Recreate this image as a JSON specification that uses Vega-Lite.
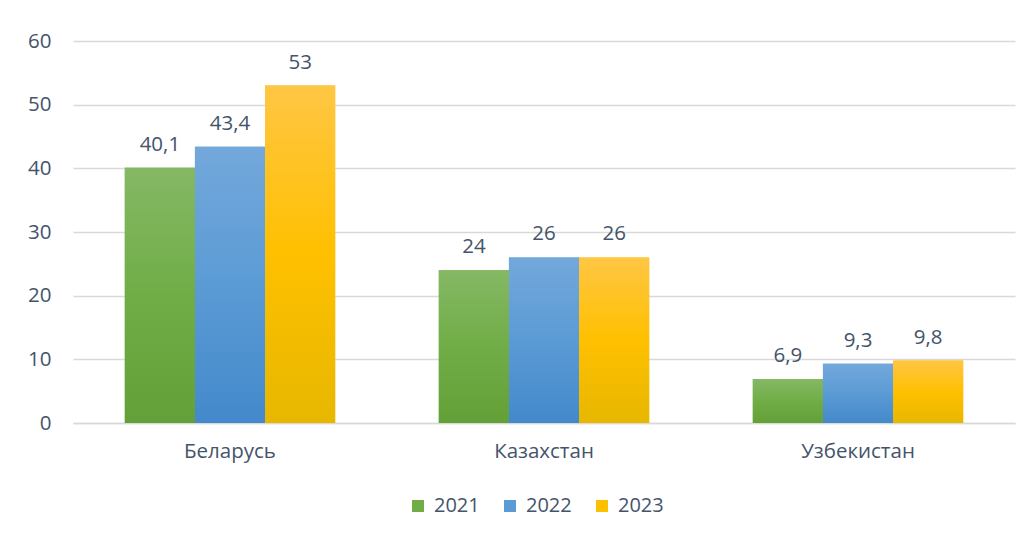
{
  "$schema": "https://vega.github.io/schema/vega-lite/v6.json",
  "width": 942,
  "height": 382,
  "autosize": "none",
  "padding": {"left": 73, "top": 41, "right": 15, "bottom": 114},
  "background": "white",
  "config": {"view": {"stroke": null}, "font": "Open Sans"},
  "data": {"values": [
    {"country": "Беларусь", "year": "2021", "value": 40.1, "label": "40,1"},
    {"country": "Беларусь", "year": "2022", "value": 43.4, "label": "43,4"},
    {"country": "Беларусь", "year": "2023", "value": 53, "label": "53"},
    {"country": "Казахстан", "year": "2021", "value": 24, "label": "24"},
    {"country": "Казахстан", "year": "2022", "value": 26, "label": "26"},
    {"country": "Казахстан", "year": "2023", "value": 26, "label": "26"},
    {"country": "Узбекистан", "year": "2021", "value": 6.9, "label": "6,9"},
    {"country": "Узбекистан", "year": "2022", "value": 9.3, "label": "9,3"},
    {"country": "Узбекистан", "year": "2023", "value": 9.8, "label": "9,8"}
  ]},
  "encoding": {
    "x": {
      "field": "country", "type": "nominal",
      "sort": ["Беларусь", "Казахстан", "Узбекистан"],
      "scale": {"paddingInner": 0.33, "paddingOuter": 0.165},
      "axis": {"title": null, "labelAngle": 0, "labelFontSize": 20.5, "labelColor": "#44546a", "labelFont": "Open Sans", "ticks": false, "domainColor": "#d9d9d9", "domainWidth": 1.5, "labelPadding": 18}
    },
    "xOffset": {
      "field": "year", "type": "nominal", "sort": ["2021", "2022", "2023"],
      "scale": {"paddingInner": 0, "paddingOuter": 0}
    },
    "y": {
      "field": "value", "type": "quantitative",
      "scale": {"domain": [0, 60], "nice": false},
      "axis": {"title": null, "values": [0, 10, 20, 30, 40, 50, 60], "ticks": false, "domain": false, "gridColor": "#d9d9d9", "gridWidth": 1.5, "labelFontSize": 20.5, "labelColor": "#44546a", "labelFont": "Open Sans", "labelPadding": 22}
    }
  },
  "layer": [
    {
      "mark": {"type": "bar"},
      "encoding": {
        "color": {
          "field": "year", "type": "nominal",
          "scale": {"domain": ["2021", "2022", "2023"], "range": ["#70ad47", "#5b9bd5", "#ffc000"]},
          "legend": {"title": null, "orient": "none", "legendX": 335, "legendY": 455, "direction": "horizontal", "symbolType": "square", "symbolSize": 144, "symbolStrokeWidth": 0, "labelFontSize": 20, "labelColor": "#44546a", "labelFont": "Open Sans", "labelOffset": 6, "columnPadding": 20}
        }
      }
    },
    {
      "transform": [{"filter": "datum.year === '2021'"}],
      "mark": {"type": "bar", "color": {"gradient": "linear", "x1": 0, "y1": 0, "x2": 0, "y2": 1, "stops": [{"offset": 0, "color": "#85b864"}, {"offset": 0.5, "color": "#70ad47"}, {"offset": 1, "color": "#63a037"}]}}
    },
    {
      "transform": [{"filter": "datum.year === '2022'"}],
      "mark": {"type": "bar", "color": {"gradient": "linear", "x1": 0, "y1": 0, "x2": 0, "y2": 1, "stops": [{"offset": 0, "color": "#73a8db"}, {"offset": 0.5, "color": "#5b9bd5"}, {"offset": 1, "color": "#4389cb"}]}}
    },
    {
      "transform": [{"filter": "datum.year === '2023'"}],
      "mark": {"type": "bar", "color": {"gradient": "linear", "x1": 0, "y1": 0, "x2": 0, "y2": 1, "stops": [{"offset": 0, "color": "#ffc644"}, {"offset": 0.5, "color": "#ffc000"}, {"offset": 1, "color": "#e7b700"}]}}
    },
    {
      "mark": {"type": "text", "baseline": "alphabetic", "dy": -17, "fontSize": 20.5, "color": "#44546a", "font": "Open Sans"},
      "encoding": {"text": {"field": "label"}}
    }
  ]
}
